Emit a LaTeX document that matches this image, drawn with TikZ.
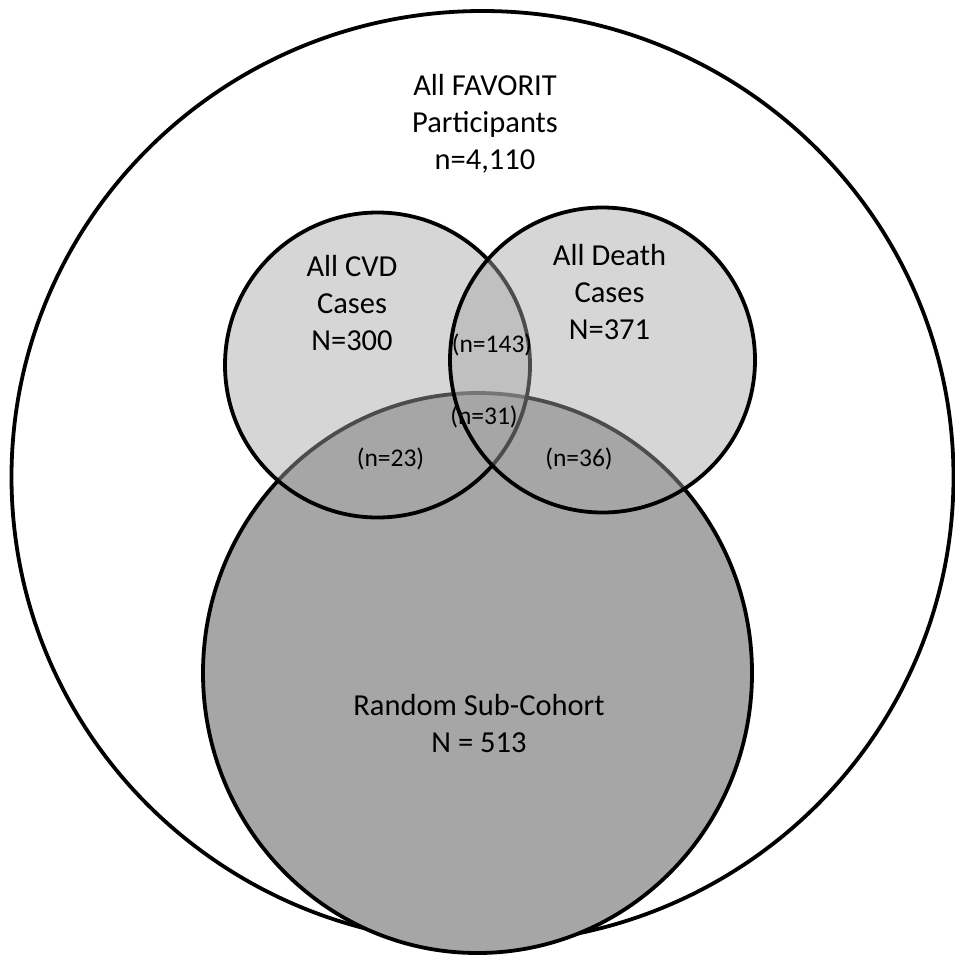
\documentclass[tikz,border=0pt]{standalone}
\usepackage{fontspec}
\setmainfont{Carlito}
\definecolor{venngray}{HTML}{A6A6A6}

\begin{document}
\begin{tikzpicture}[x=1pt,y=-1pt,line width=3.8pt]
\useasboundingbox (0,0) rectangle (955,954);

% whole cohort
\draw (482.5,477) ellipse [x radius=471, y radius=466];

% random sub-cohort (opaque)
\draw [fill=venngray] (477.5,673) ellipse [x radius=274.5, y radius=280];

% case sets (see-through)
\draw [fill=venngray, fill opacity=0.46] (377.5,365) circle [radius=152.5];
\draw [fill=venngray, fill opacity=0.46] (602.5,360) circle [radius=152.5];

% set labels
\node [align=center, inner sep=0pt, font=\fontsize{30.5}{37}\selectfont] (all) at (485,124)
  {All FAVORIT\\Participants\\n=4,110};
\node [align=center, inner sep=0pt, font=\fontsize{30.5}{37}\selectfont] (cvd) at (352,303)
  {All CVD\\Cases\\N=300};
\node [align=center, inner sep=0pt, font=\fontsize{30.5}{37}\selectfont] (death) at (609.5,292)
  {All Death\\Cases\\N=371};
\node [align=center, inner sep=0pt, font=\fontsize{30.5}{37}\selectfont] (sub) at (479,724)
  {Random Sub-Cohort\\N = 513};

% overlap counts
\node [inner sep=0pt, font=\fontsize{25.5}{30}\selectfont] (cvddeath) at (492,345) {(n=143)};
\node [inner sep=0pt, font=\fontsize{25.5}{30}\selectfont] (allthree) at (484,417) {(n=31)};
\node [inner sep=0pt, font=\fontsize{25.5}{30}\selectfont] (cvdsub) at (390.5,459) {(n=23)};
\node [inner sep=0pt, font=\fontsize{25.5}{30}\selectfont] (deathsub) at (579,459) {(n=36)};
\end{tikzpicture}
\end{document}
